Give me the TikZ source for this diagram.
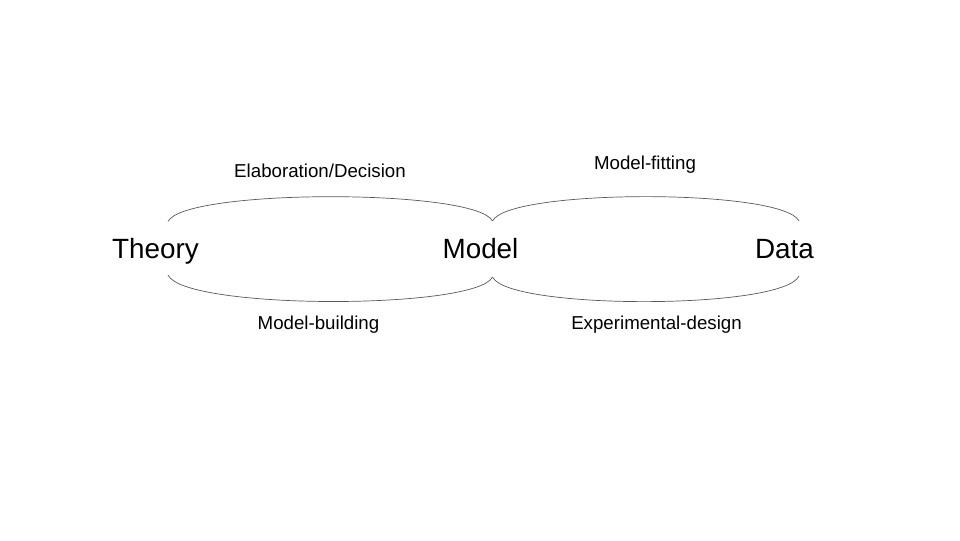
\documentclass[tikz,border=0pt]{standalone}
\usepackage{fontspec}
\setmainfont{Liberation Sans}
\usetikzlibrary{positioning}
\tikzset{>=latex}
\tikzset{
    bignode/.style={inner sep=0pt, anchor=base, font=\fontsize{19.8}{22}\selectfont},
    smallnode/.style={inner sep=0pt, anchor=base, font=\fontsize{13.3}{15}\selectfont},
    loopline/.style={gray!70!black, line width=0.5pt}
}

\begin{document}
\begin{tikzpicture}[x=0.025cm, y=-0.025cm]

    \useasboundingbox (0,0) rectangle (960,540);

    % the three stations
    \node[bignode] (theory) at (155.5,258) {Theory};
    \node[bignode] (model) at (480.5,258) {Model};
    \node[bignode] (data) at (784.5,258) {Data};

    % ends of the loops
    \coordinate (theory-t) at (168,221.5);
    \coordinate (theory-b) at (168,275);
    \coordinate (model-t) at (492.5,221);
    \coordinate (model-b) at (492.5,277);
    \coordinate (data-t) at (799,221);
    \coordinate (data-b) at (799,276);

    \draw[loopline] (theory-t) .. controls (184,188.5) and (476,188.5) .. (model-t);
    \draw[loopline] (theory-b) .. controls (184,310) and (476,310) .. (model-b);
    \draw[loopline] (model-t) .. controls (508,188.5) and (783,188.5) .. (data-t);
    \draw[loopline] (model-b) .. controls (508,310) and (783,310) .. (data-b);

    % labels
    \node[smallnode] (elab) at (320,177.3) {Elaboration/Decision};
    \node[smallnode] (build) at (318.5,329) {Model-building};
    \node[smallnode] (fit) at (645,169.3) {Model-fitting};
    \node[smallnode] (design) at (656.5,329) {Experimental-design};

\end{tikzpicture}
\end{document}
